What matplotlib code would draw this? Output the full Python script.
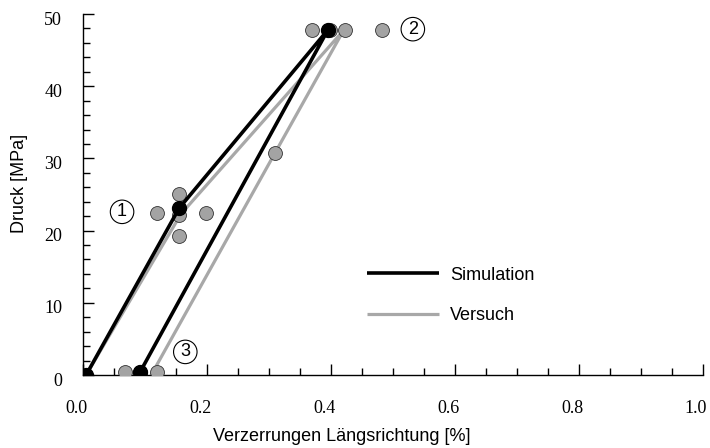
import matplotlib
matplotlib.use("Agg")
import matplotlib.pyplot as plt
from matplotlib.ticker import MultipleLocator, FormatStrFormatter
import matplotlib.transforms as mtransforms

# Data
sim_x = [0.005, 0.155, 0.395, 0.092]
sim_y = [0.0, 23.1, 47.8, 0.4]
test_x = [0.005, 0.158, 0.42, 0.31, 0.11]
test_y = [0.0, 22.3, 47.7, 30.8, 0.0]
pts_x = [0.068, 0.092, 0.12, 0.119, 0.155, 0.155, 0.198, 0.155, 0.369, 0.398, 0.423, 0.482, 0.31]
pts_y = [0.4, 0.4, 0.4, 22.5, 25.0, 22.2, 22.5, 19.3, 47.8, 47.8, 47.8, 47.8, 30.8]
label_nums = ["1", "2", "3"]
label_x = [0.063, 0.532, 0.165]
label_y = [22.6, 47.9, 3.2]
legend_labels = ["Simulation", "Versuch"]

SANS = "Liberation Sans"
SERIF = "Liberation Serif"

fig = plt.figure(figsize=(7.1, 4.48), dpi=100)
ax = fig.add_axes([83/710, 73/448, 620/710, 361/448])

gray_line = "#a8a8a8"
h_test, = ax.plot(test_x, test_y, color=gray_line, lw=2.3, solid_capstyle="butt", zorder=2,
                  label=legend_labels[1], clip_on=False)
ax.plot(pts_x, pts_y, "o", ms=10, mfc="#a3a3a3", mec="#333333", mew=0.6, zorder=3,
        linestyle="none")
h_sim, = ax.plot(sim_x, sim_y, color="black", lw=2.6, solid_capstyle="butt", zorder=4,
                 label=legend_labels[0], clip_on=False)
ax.plot(sim_x, sim_y, "o", ms=10, mfc="black", mec="black", zorder=5, linestyle="none")

for t, x, y in zip(label_nums, label_x, label_y):
    ax.text(x, y, t, fontsize=13, family=SANS, ha="center", va="center", zorder=6,
            bbox=dict(boxstyle="circle,pad=0.18", fc="white", ec="black", lw=0.8))

ax.set_xlim(0, 1.0)
ax.set_ylim(0, 50)
ax.spines["top"].set_visible(False)
ax.spines["right"].set_visible(False)
ax.spines["left"].set_linewidth(1.0)
ax.spines["bottom"].set_linewidth(1.0)

ax.xaxis.set_major_locator(MultipleLocator(0.2))
ax.xaxis.set_minor_locator(MultipleLocator(0.05))
ax.yaxis.set_major_locator(MultipleLocator(10))
ax.yaxis.set_minor_locator(MultipleLocator(2))
ax.xaxis.set_major_formatter(FormatStrFormatter("%.1f"))
ax.yaxis.set_major_formatter(FormatStrFormatter("%d"))

ax.tick_params(axis="x", which="major", direction="in", length=8, width=1, pad=18, labelsize=13)
ax.tick_params(axis="x", which="minor", direction="in", length=5, width=1)
ax.tick_params(axis="y", which="major", direction="in", length=8, width=1, pad=15, labelsize=13)
ax.tick_params(axis="y", which="minor", direction="in", length=5, width=1)
for lab in ax.get_xticklabels() + ax.get_yticklabels():
    lab.set_family(SERIF)
offy = mtransforms.ScaledTranslation(0, -3/72, fig.dpi_scale_trans)
for lab in ax.get_yticklabels():
    lab.set_transform(lab.get_transform() + offy)
offx = mtransforms.ScaledTranslation(-7/100, 0, fig.dpi_scale_trans)
for lab in ax.get_xticklabels():
    lab.set_transform(lab.get_transform() + offx)

ax.set_xlabel("Verzerrungen Längsrichtung [%]", fontsize=13, family=SANS)
ax.xaxis.set_label_coords(0.418, -0.147)
ax.set_ylabel("Druck [MPa]", fontsize=13, family=SANS)
ax.yaxis.set_label_coords(-0.088, 0.532)

leg = ax.legend(handles=[h_sim, h_test], labels=legend_labels,
                loc="upper left", bbox_to_anchor=(0.458, 0.30), frameon=False,
                handlelength=4.0, handletextpad=0.6, labelspacing=1.3,
                borderpad=0, borderaxespad=0, prop={"family": SANS, "size": 13})

fig.savefig("out.png", dpi=100)
